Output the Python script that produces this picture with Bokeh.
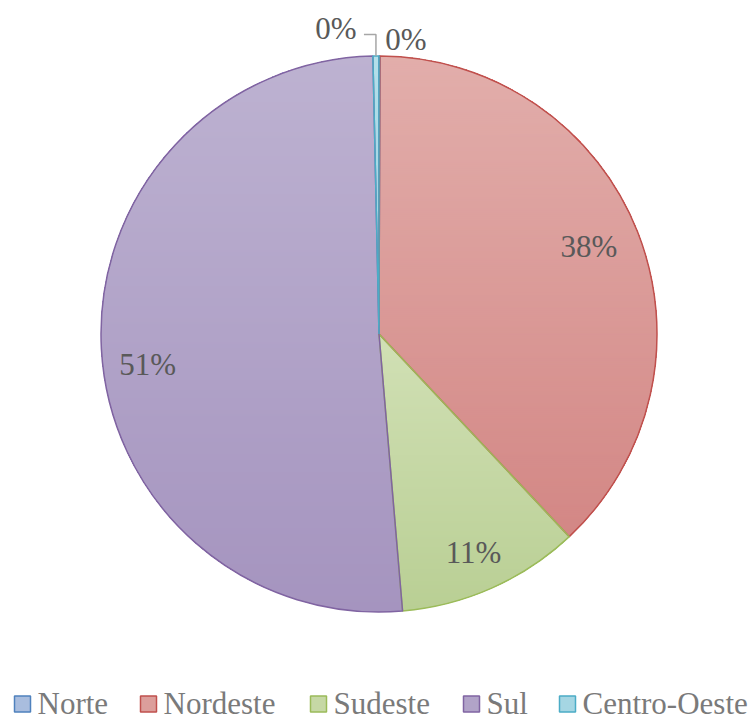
import math
from bokeh.plotting import figure
from bokeh.models import Range1d
from bokeh.core.properties import value
from bokeh.embed import file_html
from bokeh.resources import INLINE

# ---- data ----
categories = ["Norte", "Nordeste", "Sudeste", "Sul", "Centro-Oeste"]
shares = [0.05, 37.95, 10.65, 51.0, 0.35]   # percent

# ---- styles ----
top_colors = ["#b9c9e5", "#e2aeab", "#d1e0b5", "#bdb2d1", "#b5e0ea"]
bottom_colors = ["#97afd7", "#d38785", "#b9cf94", "#a594bf", "#93cddd"]
edge_colors = ["#4f81bd", "#c0504d", "#9bbb59", "#8064a2", "#4bacc6"]
legend_fill = ["#a9bdde", "#dc9e9b", "#c6d8a5", "#b1a3c8", "#a5d6e3"]
LABEL_COLOR = "#595959"
LEGEND_TEXT = "#7a7a7a"
FONT = "Liberation Serif"
# label placement nudges (pixels, layout only)
LABEL_NUDGE = [(0, 0), (-6, 2), (0, -6.5), (0.5, -18), (0, 0)]

W, H = 755, 722
CX, CY, R = 378.5, 388.5, 278.0

p = figure(width=W, height=H, output_backend="svg", toolbar_location=None,
           x_range=Range1d(0, W), y_range=Range1d(0, H),
           x_axis_type=None, y_axis_type=None, min_border=0)
p.outline_line_color = None
p.grid.visible = False
p.background_fill_color = "white"
p.border_fill_color = "white"


def hex2rgb(h):
    h = h.lstrip("#")
    return [int(h[i:i + 2], 16) for i in (0, 2, 4)]


def lerp(c0, c1, t):
    a, b = hex2rgb(c0), hex2rgb(c1)
    return "#%02x%02x%02x" % tuple(int(round(a[i] + (b[i] - a[i]) * t)) for i in range(3))


def clip_above(poly, y0):
    out = []
    n = len(poly)
    for i in range(n):
        cur = poly[i]
        prev = poly[i - 1]
        cin = cur[1] >= y0
        pin = prev[1] >= y0
        if cin:
            if not pin:
                t = (y0 - prev[1]) / (cur[1] - prev[1])
                out.append((prev[0] + t * (cur[0] - prev[0]), y0))
            out.append(cur)
        elif pin:
            t = (y0 - prev[1]) / (cur[1] - prev[1])
            out.append((prev[0] + t * (cur[0] - prev[0]), y0))
    return out


total = sum(shares)
angles = []
acc = 0.0
for v in shares:
    a0 = acc / total * 2 * math.pi
    acc += v
    a1 = acc / total * 2 * math.pi
    angles.append((a0, a1))  # clockwise from 12 o'clock

# base wedges (solid)
for i, (a0, a1) in enumerate(angles):
    p.wedge(x=CX, y=CY, radius=R, start_angle=math.pi / 2 - a0,
            end_angle=math.pi / 2 - a1, direction="clock",
            fill_color=bottom_colors[i], line_color=None)

# gradient layers
for i, (a0, a1) in enumerate(angles):
    n = max(4, int((a1 - a0) * 80))
    poly = [(CX, CY)]
    for k in range(n + 1):
        t = a0 + (a1 - a0) * k / n
        poly.append((CX + R * math.sin(t), CY + R * math.cos(t)))
    ys = [pt[1] for pt in poly]
    ymin, ymax = min(ys), max(ys)
    xs_list, ys_list, cols = [], [], []
    step = 2.0
    y = ymin + step
    while y < ymax:
        cp = clip_above(poly, y)
        if len(cp) >= 3:
            t = (ymax - y) / (ymax - ymin) if ymax > ymin else 0
            xs_list.append([q[0] for q in cp])
            ys_list.append([q[1] for q in cp])
            cols.append(lerp(top_colors[i], bottom_colors[i], t))
        y += step
    if xs_list:
        p.patches(xs=xs_list, ys=ys_list, fill_color=cols, line_color=None)

# outlines
for i, (a0, a1) in enumerate(angles):
    p.wedge(x=CX, y=CY, radius=R, start_angle=math.pi / 2 - a0,
            end_angle=math.pi / 2 - a1, direction="clock",
            fill_color=None, line_color=edge_colors[i], line_width=1.5)

# labels
pct = ["%d%%" % round(v) for v in shares]
inside_x, inside_y, inside_t = [], [], []
for i, (a0, a1) in enumerate(angles):
    mid = (a0 + a1) / 2
    if shares[i] >= 5:
        inside_x.append(CX + 0.835 * R * math.sin(mid) + LABEL_NUDGE[i][0])
        inside_y.append(CY + 0.835 * R * math.cos(mid) + LABEL_NUDGE[i][1])
        inside_t.append(pct[i])
p.text(x=inside_x, y=inside_y, text=inside_t, text_font=value(FONT),
       text_font_size="31px", text_color=LABEL_COLOR,
       text_align="center", text_baseline="middle")

# outside labels for tiny slices (Norte right, Centro-Oeste left with leader)
mid_n = (angles[0][0] + angles[0][1]) / 2
nx, ny = CX + R * math.sin(mid_n), CY + R * math.cos(mid_n)
mid_c = (angles[4][0] + angles[4][1]) / 2
cx_, cy_ = CX + R * math.sin(mid_c), CY + R * math.cos(mid_c)
p.text(x=[nx + 26.5, cx_ - 40], y=[ny + 17, cy_ + 28], text=[pct[0], pct[4]],
       text_font=value(FONT), text_font_size="31px", text_color=LABEL_COLOR,
       text_align="center", text_baseline="middle")
p.line(x=[cx_, cx_, cx_ - 12], y=[cy_, cy_ + 21.5, cy_ + 21.5],
       line_color="#a6a6a6", line_width=1.5)

# legend (manual)
LEG_LEFT = [14, 140, 310, 463, 559]
SQ = 16
SQ_Y = 18.5
TXT_Y = 19.5
for i, name in enumerate(categories):
    x0 = LEG_LEFT[i]
    p.rect(x=x0 + SQ / 2, y=SQ_Y, width=SQ, height=SQ,
           fill_color=legend_fill[i], line_color=edge_colors[i], line_width=1.5)
    p.text(x=[x0 + SQ + 7], y=[TXT_Y], text=[name], text_font=value(FONT),
           text_font_size="31px", text_color=LEGEND_TEXT,
           text_align="left", text_baseline="middle")

open("out.html", "w").write(file_html(p, INLINE))
